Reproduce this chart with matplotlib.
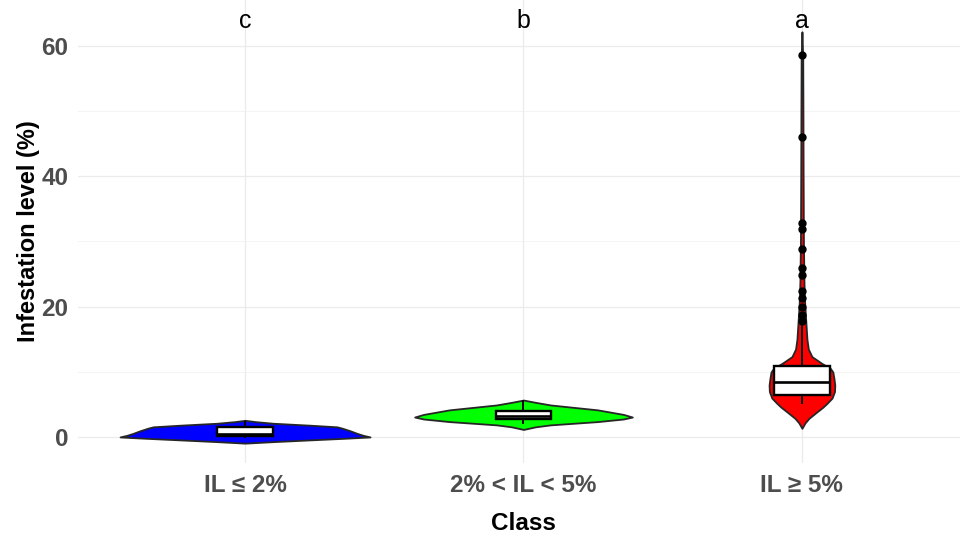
import matplotlib
matplotlib.use("Agg")
import matplotlib.pyplot as plt
from matplotlib.ticker import FixedLocator

# ---------------- data ----------------
classes = ["IL ≤ 2%", "2% < IL < 5%", "IL ≥ 5%"]
letters = ["c", "b", "a"]
fill_colors = ["#0000FF", "#00FF00", "#FF0000"]

# violin outlines: value levels and half-widths (in category units)
blue_levels = [-0.9, -0.67, -0.4, -0.15, 0.05, 0.3, 0.6, 1.0, 1.4, 1.6, 1.85, 2.15, 2.4, 2.6]
blue_halfw = [0.0, 0.10, 0.233, 0.359, 0.449, 0.424, 0.402, 0.377, 0.348, 0.330, 0.233, 0.10, 0.036, 0.0]

green_levels = [1.2, 1.6, 1.9, 2.4, 2.8, 3.1, 3.5, 4.2, 4.95, 5.35, 5.7]
green_halfw = [0.0, 0.043, 0.097, 0.266, 0.359, 0.391, 0.359, 0.266, 0.097, 0.043, 0.0]

red_levels = [1.37, 2.2, 2.9, 3.9, 4.6, 5.2, 6.0, 7.0, 8.0, 9.0, 10.0, 10.6, 11.3,
              12.35, 13.5, 15.0, 17.0, 19.0, 21.0, 24.0, 30.0, 40.0, 50.0, 58.0, 62.1]
red_halfw = [0.0, 0.011, 0.025, 0.054, 0.075, 0.09, 0.108, 0.117, 0.118, 0.115, 0.111,
             0.101, 0.072, 0.036, 0.023, 0.018, 0.015, 0.012, 0.0093, 0.0072, 0.0054,
             0.0043, 0.0036, 0.0029, 0.0]

# boxplot summaries
q1 = [0.15, 2.85, 6.5]
medians = [0.55, 3.3, 8.5]
q3 = [1.5, 4.05, 10.95]
whisk_lo = [0.0, 2.2, 5.3]
whisk_hi = [2.4, 5.5, 17.3]
outliers_a = [58.6, 46.0, 32.8, 31.9, 28.9, 26.0, 24.8, 22.4, 21.3, 20.0, 18.8, 17.8]
outliers = [[], [], outliers_a]

letter_y = 62.7

# ---------------- plot ----------------
plt.rcParams["font.family"] = ["Liberation Sans", "DejaVu Sans"]

fig = plt.figure(figsize=(9.6, 5.36), dpi=100)
ax = fig.add_axes([78 / 960, 1 - 463 / 536, 891 / 960, 463 / 536])

positions = [1, 2, 3]
violins = [(blue_levels, blue_halfw), (green_levels, green_halfw), (red_levels, red_halfw)]
for pos, (lev, hw), col in zip(positions, violins, fill_colors):
    left = [pos - w for w in hw]
    right = [pos + w for w in hw]
    ax.fill_betweenx(lev, left, right, facecolor=col, edgecolor="#262626",
                     linewidth=1.3, zorder=2)

stats = []
for i in range(3):
    stats.append(dict(med=medians[i], q1=q1[i], q3=q3[i],
                      whislo=whisk_lo[i], whishi=whisk_hi[i], fliers=outliers[i]))
ax.bxp(stats, positions=positions, widths=0.2, patch_artist=True, showcaps=False,
       boxprops=dict(facecolor="white", edgecolor="black", linewidth=1.7),
       medianprops=dict(color="black", linewidth=1.9),
       whiskerprops=dict(color="black", linewidth=1.4),
       flierprops=dict(marker="o", markerfacecolor="black", markeredgecolor="black",
                       markersize=5),
       zorder=3)

for pos, lab in zip(positions, letters):
    ax.text(pos, letter_y, lab, ha="center", va="baseline", fontsize=18, color="black")

ax.set_xlim(0.4, 3.6)
ax.set_ylim(-3.94, 66.97)
ax.set_xticks(positions)
ax.set_xticklabels(classes)
ax.yaxis.set_major_locator(FixedLocator([0, 20, 40, 60]))
ax.yaxis.set_minor_locator(FixedLocator([10, 30, 50]))

ax.grid(True, which="major", color="#EBEBEB", linewidth=0.9, zorder=0)
ax.grid(True, which="minor", axis="y", color="#F2F2F2", linewidth=0.6, zorder=0)
ax.set_axisbelow(True)
for s in ax.spines.values():
    s.set_visible(False)
ax.tick_params(axis="both", which="both", length=0)
ax.tick_params(axis="y", pad=7.0)
ax.tick_params(axis="x", pad=8.0)
for t in ax.get_xticklabels() + ax.get_yticklabels():
    t.set_fontsize(17.5)
    t.set_fontweight("bold")
    t.set_color("#4D4D4D")

ax.set_xlabel("Class", fontsize=17.5, fontweight="bold", color="black", labelpad=11)
ax.set_ylabel("Infestation level (%)", fontsize=17, fontweight="bold", color="black",
              labelpad=1)

fig.savefig("out.png", dpi=100)
